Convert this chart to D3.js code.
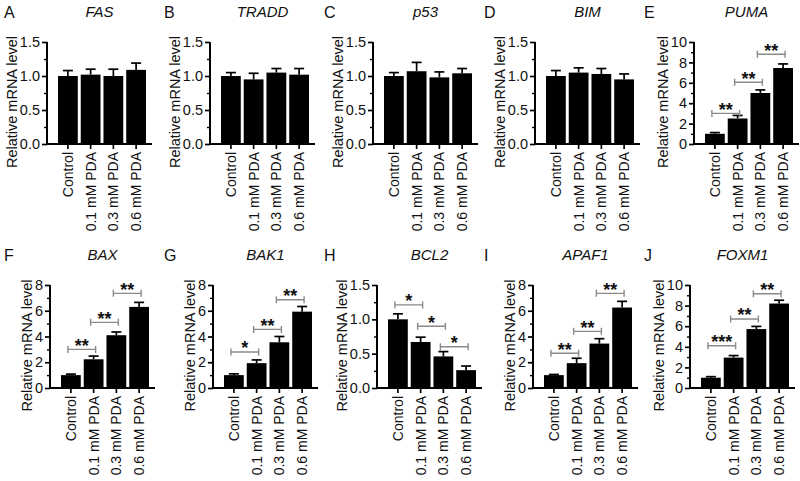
<!DOCTYPE html>
<html><head><meta charset="utf-8">
<script src="https://cdn.jsdelivr.net/npm/d3@7/dist/d3.min.js"></script>
<style>body{margin:0;background:#fff} text{font-family:"Liberation Sans",Arial,sans-serif;fill:#111}</style>
</head><body><svg id="c" width="800" height="481"></svg>
<script>
// ---------- data ----------
const groups = ["Control", "0.1 mM PDA", "0.3 mM PDA", "0.6 mM PDA"];
const panelLetters = ["A", "B", "C", "D", "E", "F", "G", "H", "I", "J"];
const genes = ["FAS", "TRADD", "p53", "BIM", "PUMA", "BAX", "BAK1", "BCL2", "APAF1", "FOXM1"];
const yLabel = "Relative mRNA level";

const means = [
  [1.00, 1.02, 1.00, 1.09],
  [1.00, 0.95, 1.05, 1.02],
  [1.00, 1.07, 0.98, 1.04],
  [1.00, 1.05, 1.03, 0.95],
  [1.0, 2.5, 5.0, 7.45],
  [1.0, 2.23, 4.1, 6.3],
  [1.0, 1.93, 3.55, 5.93],
  [1.00, 0.67, 0.46, 0.26],
  [1.0, 1.93, 3.45, 6.25],
  [1.0, 2.95, 5.72, 8.2]
];
const errors = [
  [0.08, 0.08, 0.10, 0.10],
  [0.05, 0.09, 0.06, 0.09],
  [0.05, 0.13, 0.08, 0.07],
  [0.08, 0.07, 0.08, 0.08],
  [0.12, 0.3, 0.3, 0.4],
  [0.08, 0.25, 0.25, 0.35],
  [0.1, 0.25, 0.45, 0.4],
  [0.08, 0.07, 0.07, 0.06],
  [0.05, 0.38, 0.38, 0.48],
  [0.1, 0.2, 0.26, 0.32]
];
const yMax = [1.5, 1.5, 1.5, 1.5, 10, 8, 8, 1.5, 8, 10];
const yMajorStep = [0.5, 0.5, 0.5, 0.5, 2, 2, 2, 0.5, 2, 2];
const yMinorStep = [0.25, 0.25, 0.25, 0.25, 1, 1, 1, 0.25, 1, 1];
// significance brackets: [from group, to group, height, label]
const sigBrackets = [
  [], [], [], [],
  [[0, 1, 3.0, "**"], [1, 2, 6.05, "**"], [2, 3, 8.8, "**"]],
  [[0, 1, 3.0, "**"], [1, 2, 5.1, "**"], [2, 3, 7.35, "**"]],
  [[0, 1, 2.8, "*"], [1, 2, 4.55, "**"], [2, 3, 6.85, "**"]],
  [[0, 1, 1.21, "*"], [1, 2, 0.90, "*"], [2, 3, 0.60, "*"]],
  [[0, 1, 2.7, "**"], [1, 2, 4.4, "**"], [2, 3, 7.35, "**"]],
  [[0, 1, 4.1, "***"], [1, 2, 6.7, "**"], [2, 3, 9.15, "**"]]
];

// ---------- layout ----------
const axisXs = [47, 210, 373, 535, 694, 50, 213, 377, 533, 690];
const rowTop = [42, 285];
const rowBottom = [144, 388];
const axisLen = 105;
const fs = 14.5;
const fsX = 14;

const svg = d3.select("#c");

genes.forEach((gene, i) => {
  const row = i < 5 ? 0 : 1;
  const ax = axisXs[i];
  const y0 = rowBottom[row], y1 = rowTop[row];
  const colLeft = (i % 5) * 160;
  const g = svg.append("g");

  const x = d3.scaleBand().domain(groups).range([ax + 11, ax + 99]).paddingInner(0.13).paddingOuter(0);
  const y = d3.scaleLinear().domain([0, yMax[i]]).range([y0, y1]);

  const fmt = yMax[i] < 2 ? d3.format(".1f") : d3.format("d");
  const majors = d3.range(0, yMax[i] + 1e-9, yMajorStep[i]);
  const minors = d3.range(0, yMax[i] + 1e-9, yMinorStep[i]).filter(v => !majors.some(m => Math.abs(m - v) < 1e-9));

  // bars
  g.selectAll("rect.bar").data(means[i]).enter().append("rect")
    .attr("x", (d, j) => x(groups[j]))
    .attr("width", x.bandwidth())
    .attr("y", d => y(d))
    .attr("height", d => y0 - y(d))
    .attr("fill", "#000");

  // error bars (upper only)
  const eb = g.selectAll("g.eb").data(means[i]).enter().append("g");
  eb.append("line")
    .attr("x1", (d, j) => x(groups[j]) + x.bandwidth() / 2)
    .attr("x2", (d, j) => x(groups[j]) + x.bandwidth() / 2)
    .attr("y1", d => y(d))
    .attr("y2", (d, j) => y(d + errors[i][j]))
    .attr("stroke", "#000").attr("stroke-width", 1.7);
  eb.append("line")
    .attr("x1", (d, j) => x(groups[j]) + x.bandwidth() / 2 - 5)
    .attr("x2", (d, j) => x(groups[j]) + x.bandwidth() / 2 + 5)
    .attr("y1", (d, j) => y(d + errors[i][j]))
    .attr("y2", (d, j) => y(d + errors[i][j]))
    .attr("stroke", "#000").attr("stroke-width", 1.7);

  // y axis
  const yAxis = d3.axisLeft(y).tickValues(majors).tickFormat(fmt).tickSize(5).tickPadding(2);
  const ya = g.append("g").attr("transform", `translate(${ax},0)`).call(yAxis);
  ya.select(".domain").attr("d", `M0,${y0}V${y1}`).attr("stroke", "#000").attr("stroke-width", 2);
  ya.selectAll(".tick line").attr("stroke", "#000").attr("stroke-width", 1.7);
  ya.selectAll(".tick text").attr("font-size", fs).attr("fill", "#111")
    .attr("font-family", '"Liberation Sans",Arial,sans-serif');
  const minorAxis = d3.axisLeft(y).tickValues(minors).tickFormat("").tickSize(3);
  const ym = g.append("g").attr("transform", `translate(${ax},0)`).call(minorAxis);
  ym.select(".domain").remove();
  ym.selectAll(".tick line").attr("stroke", "#000").attr("stroke-width", 1.4);

  let maxW = 0;
  ya.selectAll(".tick text").each(function () { maxW = Math.max(maxW, this.getBBox().width); });

  // x axis
  const xAxis = d3.axisBottom(x).tickSize(5).tickPadding(4);
  const xa = g.append("g").attr("transform", `translate(0,${y0})`).call(xAxis);
  xa.select(".domain").attr("d", `M${ax},0H${ax + axisLen}`).attr("stroke", "#000").attr("stroke-width", 2);
  xa.selectAll(".tick line").attr("stroke", "#000").attr("stroke-width", 1.7);
  xa.selectAll(".tick text").attr("font-size", fsX).attr("fill", "#111")
    .attr("font-family", '"Liberation Sans",Arial,sans-serif')
    .attr("text-anchor", "end")
    .attr("transform", "rotate(-90)")
    .attr("x", -8).attr("y", 0).attr("dy", "0.35em");

  // y label
  g.append("text")
    .attr("transform", `translate(${ax - 7 - maxW - 3},${(y0 + y1) / 2 + 9}) rotate(-90)`)
    .attr("text-anchor", "middle")
    .attr("font-size", fs)
    .text(yLabel);

  // title
  g.append("text")
    .attr("x", ax + axisLen / 2).attr("y", row === 0 ? 17 : 260)
    .attr("text-anchor", "middle").attr("font-size", 15).attr("font-style", "italic")
    .text(gene);

  // panel letter
  g.append("text")
    .attr("x", colLeft + 4).attr("y", row === 0 ? 18 : 261)
    .attr("font-size", 16)
    .text(panelLetters[i]);

  // significance brackets
  sigBrackets[i].forEach(([a, b, h, lab]) => {
    const xa1 = x(groups[a]) + x.bandwidth() / 2 - 3;
    const xb1 = x(groups[b]) + x.bandwidth() / 2 + 2;
    const yy = y(h);
    g.append("path")
      .attr("d", `M${xa1},${yy - 3.5}V${yy + 3.5}M${xa1},${yy}H${xb1}M${xb1},${yy - 3.5}V${yy + 3.5}`)
      .attr("stroke", "#8a8a8a").attr("stroke-width", 1.4).attr("fill", "none");
    g.append("text")
      .attr("x", (xa1 + xb1) / 2).attr("y", yy + 2.5)
      .attr("text-anchor", "middle").attr("font-size", 18).attr("font-weight", "bold")
      .text(lab);
  });
});
</script>
</body></html>
